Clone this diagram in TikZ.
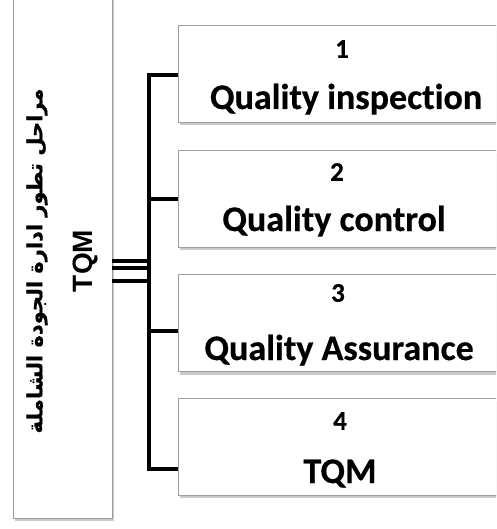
\documentclass[tikz,border=0pt]{standalone}
\usepackage{fontspec}
\setmainfont{Carlito}[Ligatures=NoCommon, BoldFeatures={FakeBold=0.5}]
\newfontfamily\arfont[Script=Arabic, BoldFeatures={FakeBold=0.6}]{DejaVu Sans}
\newfontfamily\arialfont{Liberation Sans}
\TeXXeTstate=1
\usetikzlibrary{shadows}
\begin{document}
\begin{tikzpicture}[x=1pt,y=-1pt,
  panel/.style={rectangle, draw=gray!75, line width=0.8pt, fill=white, inner sep=0pt,
    drop shadow={shadow xshift=2pt, shadow yshift=-3pt, fill=black!60, opacity=0.35}},
  stagebox/.style={panel, minimum width=325pt, minimum height=97pt},
  numtext/.style={font=\bfseries\fontsize{27}{31}\selectfont, inner sep=0pt},
  stagetext/.style={font=\bfseries\fontsize{36}{42}\selectfont, inner sep=0pt, anchor=base},
  wire/.style={line width=4pt, black}]
\useasboundingbox (0,0) rectangle (496,529);
\clip (0,0) rectangle (496,529);

% title column on the left
\node[panel, minimum width=99pt, minimum height=528pt] (stages) at (62.5,254) {};
\node[rotate=90, font=\arfont\bfseries\fontsize{21}{25}\selectfont, inner sep=0pt]
  (title) at (37,261) {\beginR مراحل تطور ادارة الجودة الشاملة\endR};
\node[rotate=90, font=\arialfont\bfseries\fontsize{28}{32}\selectfont, inner sep=0pt]
  (titleabbr) at (85,261) {TQM};

% the four stages
\node[stagebox] (b1) at (340.5,74) {};
\node[stagebox] (b2) at (340.5,198.5) {};
\node[stagebox] (b3) at (340.5,323) {};
\node[stagebox] (b4) at (340.5,446.5) {};

\node[numtext] (n1) at (342,49) {1};
\node[stagetext] (t1) at (346,109) {Quality inspection};
\node[numtext] (n2) at (337,172) {2};
\node[stagetext] (t2) at (334,231) {Quality control};
\node[numtext] (n3) at (338,293) {3};
\node[stagetext] (t3) at (339,360) {Quality Assurance};
\node[numtext] (n4) at (340,421) {4};
\node[stagetext] (t4) at (340,483) {TQM};

% bracket joining the column to the stages
\coordinate (sp1) at (149,75);
\coordinate (sp2) at (149,199);
\coordinate (sp3) at (149,331);
\coordinate (sp4) at (149,469);
\draw[wire] (b1.west |- sp1) -- (sp1) -- (sp4) -- (b4.west |- sp4);
\draw[wire] (sp2) -- (b2.west |- sp2);
\draw[wire] (sp3) -- (b3.west |- sp3);

\foreach \yy in {260.5,268,281}
  \draw[wire] (stages.east |- 0,\yy) -- (sp1 |- 0,\yy);
\end{tikzpicture}
\end{document}
